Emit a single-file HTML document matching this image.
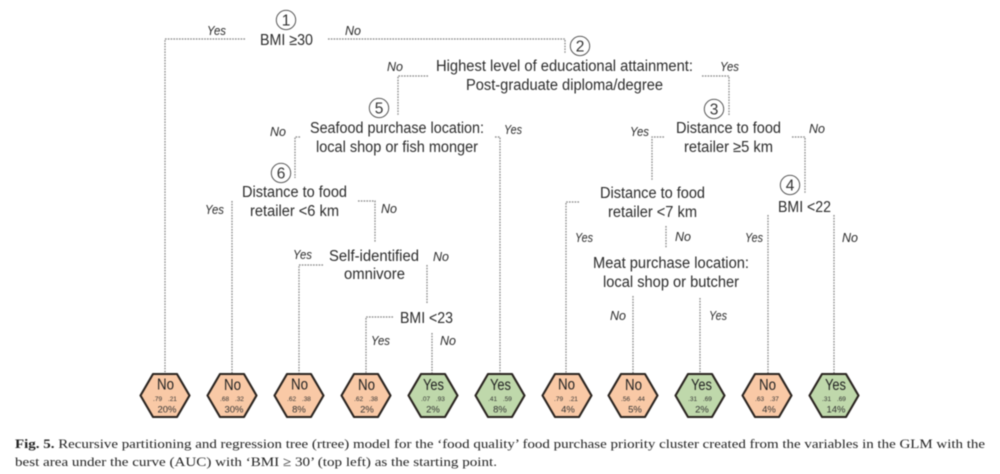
<!DOCTYPE html>
<html><head><meta charset="utf-8"><style>
html,body{margin:0;padding:0;background:#fff}
svg{display:block;filter:blur(.4px)}
.t{font:15.5px "Liberation Sans",sans-serif;fill:#2b2b2b}
.l{font:italic 13px "Liberation Sans",sans-serif;fill:#2b2b2b}
.n{font:15.5px "Liberation Sans",sans-serif;fill:#333;text-anchor:middle}
.h{font:15.5px "Liberation Sans",sans-serif;fill:#222}
.p{font:6.5px "Liberation Sans",sans-serif;fill:#333;text-anchor:middle;word-spacing:4px}
.q{font:9.5px "Liberation Sans",sans-serif;fill:#333;text-anchor:middle}
.c{font:13px "Liberation Serif",serif;fill:#222}
.d{fill:none;stroke:#808080;stroke-width:1.2;stroke-dasharray:1.6 1.2}
.o{fill:none;stroke:#444;stroke-width:.9}
.x{stroke:#2a2420;stroke-width:2.1;stroke-linejoin:round}
</style></head><body>
<svg width="1000" height="474" viewBox="0 0 1000 474" xmlns="http://www.w3.org/2000/svg">
<rect width="1000" height="474" fill="#fff"/>
<g class="d">
<path d="M245 39H165V374"/><path d="M328 39H565V54"/><path d="M428 76H398V115"/><path d="M300 137H295V178"/>
<path d="M495 137H500V374"/><path d="M702 76H729V115"/><path d="M664 137H652V180"/><path d="M792 137H805V194"/>
<path d="M579 202H566V374"/><path d="M666 226V248"/><path d="M768 215V374"/><path d="M834 215V374"/>
<path d="M232 201V374"/><path d="M358 201H375V242"/><path d="M323 265H299V374"/><path d="M427 265V304"/>
<path d="M393 317H366V374"/><path d="M432 333V374"/><path d="M633 296V374"/><path d="M700 298V374"/>
</g>
<g class="o"><circle cx="286" cy="20" r="9.7"/><circle cx="580" cy="46" r="9.7"/><circle cx="714" cy="109" r="9.7"/><circle cx="790" cy="185" r="9.7"/><circle cx="379" cy="108" r="9.7"/><circle cx="281" cy="173" r="9.7"/></g>
<g class="n"><text x="286" y="25.5">1</text><text x="580" y="51.5">2</text><text x="714" y="114.5">3</text><text x="790" y="190.5">4</text><text x="379" y="113.5">5</text><text x="281" y="178.5">6</text></g>
<g class="t">
<text x="260" y="45" textLength="53" lengthAdjust="spacingAndGlyphs">BMI ≥30</text>
<text x="436" y="71" textLength="257" lengthAdjust="spacingAndGlyphs">Highest level of educational attainment:</text>
<text x="466" y="90" textLength="197" lengthAdjust="spacingAndGlyphs">Post-graduate diploma/degree</text>
<text x="310" y="133" textLength="174" lengthAdjust="spacingAndGlyphs">Seafood purchase location:</text>
<text x="316" y="152" textLength="162" lengthAdjust="spacingAndGlyphs">local shop or fish monger</text>
<text x="242" y="197" textLength="105" lengthAdjust="spacingAndGlyphs">Distance to food</text>
<text x="250" y="216" textLength="89" lengthAdjust="spacingAndGlyphs">retailer &lt;6 km</text>
<text x="329" y="261" textLength="90" lengthAdjust="spacingAndGlyphs">Self-identified</text>
<text x="344" y="279" textLength="61" lengthAdjust="spacingAndGlyphs">omnivore</text>
<text x="400" y="323" textLength="53" lengthAdjust="spacingAndGlyphs">BMI &lt;23</text>
<text x="676" y="133" textLength="105" lengthAdjust="spacingAndGlyphs">Distance to food</text>
<text x="684" y="152" textLength="89" lengthAdjust="spacingAndGlyphs">retailer ≥5 km</text>
<text x="600" y="198" textLength="105" lengthAdjust="spacingAndGlyphs">Distance to food</text>
<text x="608" y="217" textLength="89" lengthAdjust="spacingAndGlyphs">retailer &lt;7 km</text>
<text x="778" y="212" textLength="53" lengthAdjust="spacingAndGlyphs">BMI &lt;22</text>
<text x="593" y="268" textLength="156" lengthAdjust="spacingAndGlyphs">Meat purchase location:</text>
<text x="603" y="287" textLength="136" lengthAdjust="spacingAndGlyphs">local shop or butcher</text>
</g>
<g class="l">
<text x="207" y="35" textLength="19" lengthAdjust="spacingAndGlyphs">Yes</text><text x="345" y="35" textLength="16" lengthAdjust="spacingAndGlyphs">No</text><text x="387" y="71" textLength="16" lengthAdjust="spacingAndGlyphs">No</text><text x="720" y="71" textLength="19" lengthAdjust="spacingAndGlyphs">Yes</text>
<text x="270" y="136" textLength="16" lengthAdjust="spacingAndGlyphs">No</text><text x="504" y="134" textLength="18" lengthAdjust="spacingAndGlyphs">Yes</text><text x="630" y="136" textLength="19" lengthAdjust="spacingAndGlyphs">Yes</text><text x="809" y="133" textLength="16" lengthAdjust="spacingAndGlyphs">No</text>
<text x="205" y="214" textLength="19" lengthAdjust="spacingAndGlyphs">Yes</text><text x="381" y="213" textLength="16" lengthAdjust="spacingAndGlyphs">No</text><text x="293" y="259" textLength="19" lengthAdjust="spacingAndGlyphs">Yes</text><text x="433" y="261" textLength="16" lengthAdjust="spacingAndGlyphs">No</text>
<text x="371" y="345" textLength="19" lengthAdjust="spacingAndGlyphs">Yes</text><text x="440" y="345" textLength="16" lengthAdjust="spacingAndGlyphs">No</text><text x="575" y="242" textLength="18" lengthAdjust="spacingAndGlyphs">Yes</text><text x="675" y="241" textLength="16" lengthAdjust="spacingAndGlyphs">No</text>
<text x="745" y="242" textLength="18" lengthAdjust="spacingAndGlyphs">Yes</text><text x="842" y="242" textLength="16" lengthAdjust="spacingAndGlyphs">No</text><text x="610" y="320" textLength="16" lengthAdjust="spacingAndGlyphs">No</text><text x="709" y="320" textLength="18" lengthAdjust="spacingAndGlyphs">Yes</text>
</g>
<defs>
<polygon id="hx" points="-24.5,0 -12,-21.5 12,-21.5 24.5,0 12,21.5 -12,21.5"/>
</defs>
<g class="x">
<use href="#hx" x="165" y="395.5" fill="#f9c9a6"/><use href="#hx" x="232" y="395.5" fill="#f9c9a6"/><use href="#hx" x="299" y="395.5" fill="#f9c9a6"/><use href="#hx" x="366" y="395.5" fill="#f9c9a6"/>
<use href="#hx" x="433" y="395.5" fill="#bfd8ab"/><use href="#hx" x="500" y="395.5" fill="#bfd8ab"/>
<use href="#hx" x="567" y="395.5" fill="#f9c9a6"/><use href="#hx" x="633" y="395.5" fill="#f9c9a6"/>
<use href="#hx" x="700" y="395.5" fill="#bfd8ab"/><use href="#hx" x="767" y="395.5" fill="#f9c9a6"/><use href="#hx" x="834" y="395.5" fill="#bfd8ab"/>
</g>
<g class="h">
<text x="157" y="389.5" textLength="17" lengthAdjust="spacingAndGlyphs">No</text><text x="224" y="390" textLength="17" lengthAdjust="spacingAndGlyphs">No</text><text x="291" y="389.5" textLength="17" lengthAdjust="spacingAndGlyphs">No</text><text x="358" y="390" textLength="17" lengthAdjust="spacingAndGlyphs">No</text>
<text x="423" y="390" textLength="21" lengthAdjust="spacingAndGlyphs">Yes</text><text x="490" y="390" textLength="21" lengthAdjust="spacingAndGlyphs">Yes</text>
<text x="558" y="389.5" textLength="17" lengthAdjust="spacingAndGlyphs">No</text><text x="625" y="390" textLength="17" lengthAdjust="spacingAndGlyphs">No</text>
<text x="691" y="390" textLength="21" lengthAdjust="spacingAndGlyphs">Yes</text><text x="759" y="390" textLength="17" lengthAdjust="spacingAndGlyphs">No</text><text x="825" y="390" textLength="21" lengthAdjust="spacingAndGlyphs">Yes</text>
</g>
<g class="p"><text x="165" y="401">.79 .21</text><text x="232" y="401">.68 .32</text><text x="299" y="401">.62 .38</text><text x="366" y="401">.62 .38</text><text x="433" y="401">.07 .93</text><text x="500" y="401">.41 .59</text><text x="566" y="401">.79 .21</text><text x="633" y="401">.56 .44</text><text x="700" y="401">.31 .69</text><text x="767" y="401">.63 .37</text><text x="834" y="401">.31 .69</text></g>
<g class="q"><text x="167" y="412.5">20%</text><text x="234" y="412.5">30%</text><text x="299" y="412.5">8%</text><text x="367" y="412.5">2%</text><text x="433" y="412.5">2%</text><text x="500" y="412.5">8%</text><text x="568" y="412.5">4%</text><text x="635" y="412.5">5%</text><text x="702" y="412.5">2%</text><text x="769" y="412.5">4%</text><text x="836" y="412.5">14%</text></g>
<text class="c" x="15" y="448" textLength="970" lengthAdjust="spacingAndGlyphs"><tspan font-weight="bold">Fig. 5.</tspan> Recursive partitioning and regression tree (rtree) model for the ‘food quality’ food purchase priority cluster created from the variables in the GLM with the</text>
<text class="c" x="15" y="466" textLength="482" lengthAdjust="spacingAndGlyphs">best area under the curve (AUC) with ‘BMI ≥ 30’ (top left) as the starting point.</text>
</svg>
</body></html>
